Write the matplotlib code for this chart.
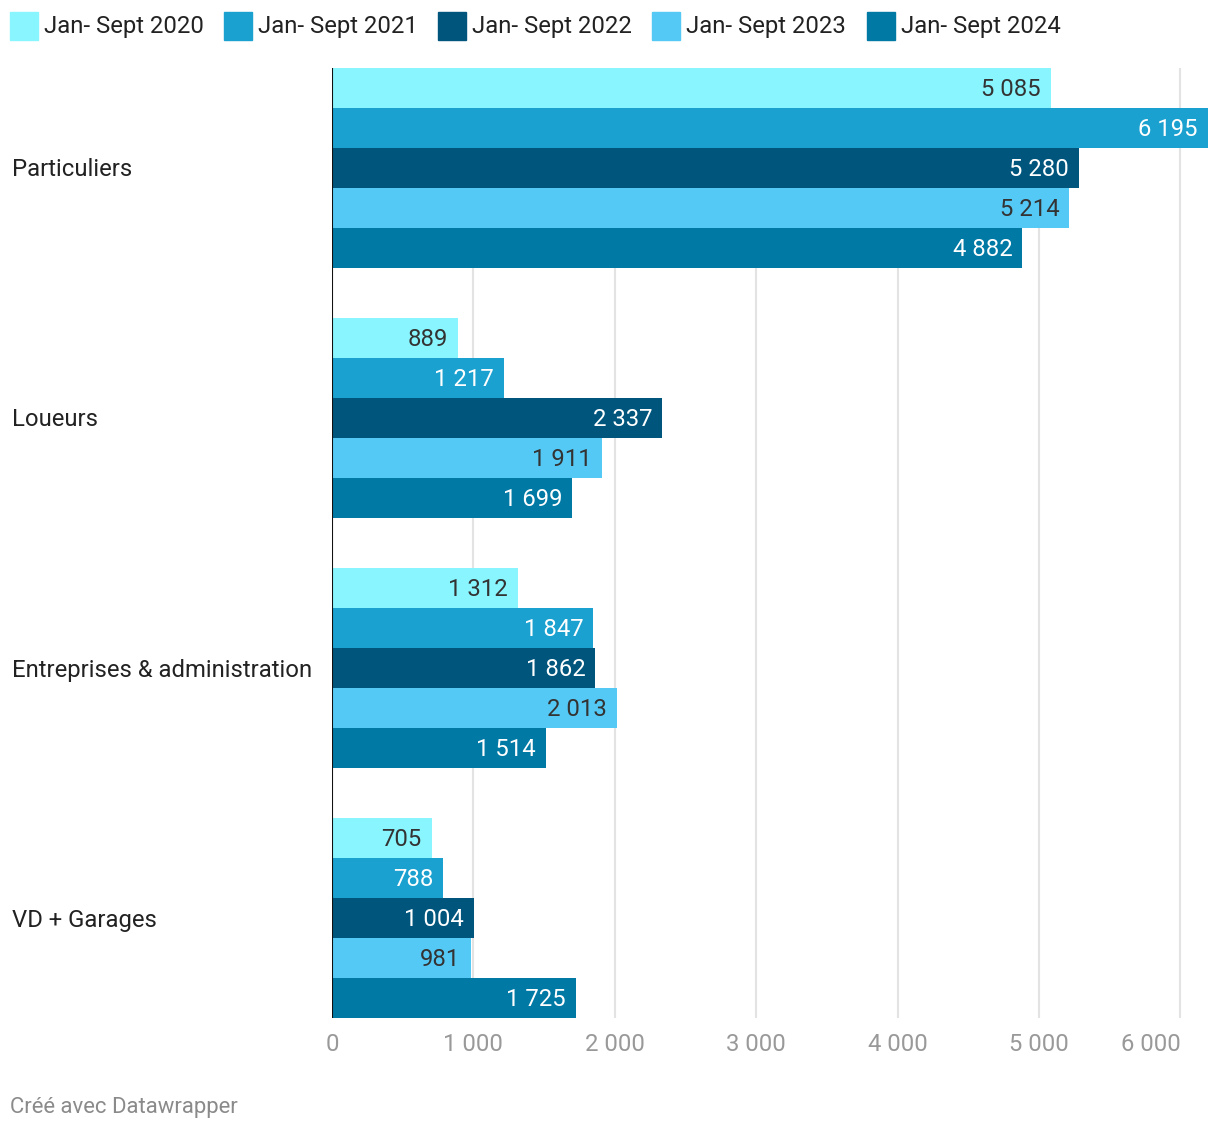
import matplotlib.pyplot as plt
from matplotlib.patches import Rectangle

plt.rcParams['font.family'] = ['Roboto', 'DejaVu Sans']

categories = ["Particuliers", "Loueurs", "Entreprises & administration", "VD + Garages"]
series_names = ["Jan- Sept 2020", "Jan- Sept 2021", "Jan- Sept 2022",
                "Jan- Sept 2023", "Jan- Sept 2024"]
values = [
    [5085, 889, 1312, 705],     # 2020
    [6195, 1217, 1847, 788],    # 2021
    [5280, 2337, 1862, 1004],   # 2022
    [5214, 1911, 2013, 981],    # 2023
    [4882, 1699, 1514, 1725],   # 2024
]
x_ticks = [0, 1000, 2000, 3000, 4000, 5000, 6000]

colors = ["#88f5ff", "#1aa1cf", "#00557c", "#55c9f5", "#0079a5"]
label_colors = ["#333333", "#ffffff", "#ffffff", "#333333", "#ffffff"]

FS = 17.2
W, H = 1220, 1132
fig = plt.figure(figsize=(W / 100, H / 100), dpi=100)

# axes in pixel terms: x 332..1208, y 68..1018
ax = fig.add_axes([332 / W, (H - 1018) / H, 876 / W, 950 / H])

def fmt(v):
    return "{:,}".format(v).replace(",", " ")

group_pitch = 6.25
for s, name in enumerate(series_names):
    ys = [g * group_pitch + s + 0.5 for g in range(len(categories))]
    ax.barh(ys, values[s], height=1.0, color=colors[s], zorder=2)
    for y, v in zip(ys, values[s]):
        ax.annotate(fmt(v), (v, y), xytext=(-10, -2), textcoords='offset pixels',
                    ha='right', va='center', fontsize=FS,
                    color=label_colors[s], zorder=3)

ax.set_ylim(len(categories) * group_pitch - 1.25, 0)
ax.set_xlim(0, 876 / 141.4 * 1000)
ax.set_xticks(x_ticks)
ax.set_xticklabels([fmt(t) for t in x_ticks])
ax.tick_params(axis='x', length=0, pad=11, labelsize=FS, labelcolor="#999999")
ax.get_xticklabels()[-1].set_ha('right')
ax.set_yticks([])
for sp in ax.spines.values():
    sp.set_visible(False)
ax.axvline(0, color="#111111", lw=1.5, zorder=4)
for t in x_ticks[1:]:
    ax.axvline(t, color="#e3e3e3", lw=1.5, zorder=1)

# category labels
for g, cat in enumerate(categories):
    yc = g * group_pitch + 2.5
    ax.annotate(cat, (0, yc), xytext=(-320, -2), textcoords='offset pixels',
                ha='left', va='center', fontsize=FS, color="#222222",
                annotation_clip=False)

# legend
leg_x = [10, 224, 438, 652, 867]
for lx, name, c in zip(leg_x, series_names, colors):
    fig.patches.append(Rectangle((lx / W, (H - 40) / H), 28 / W, 28 / H,
                                 transform=fig.transFigure, color=c))
    fig.text((lx + 34) / W, (H - 27) / H, name, ha='left', va='center',
             fontsize=FS, color="#222222")

fig.text(10 / W, (H - 1108) / H, "Créé avec Datawrapper", ha='left',
         va='center', fontsize=15.9, color="#8a8a8a")

fig.savefig("out.png", dpi=100)
